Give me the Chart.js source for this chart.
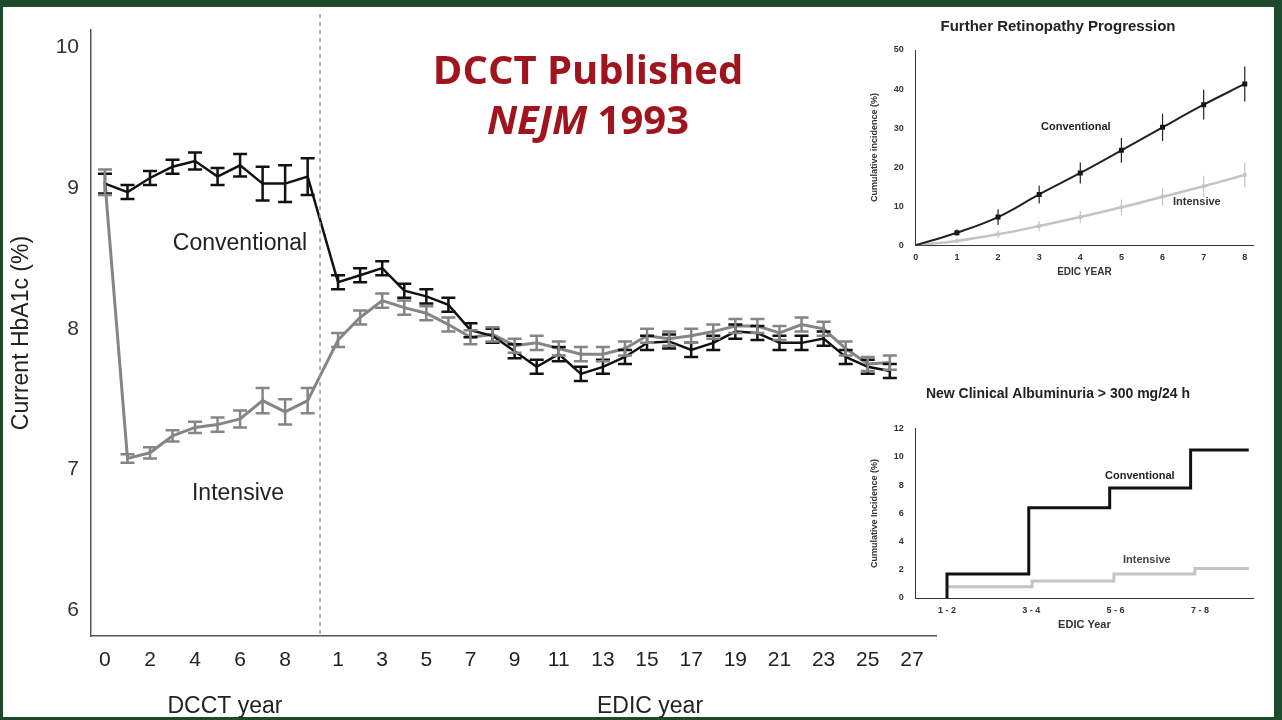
<!DOCTYPE html>
<html>
<head>
<meta charset="utf-8">
<script src="https://cdn.jsdelivr.net/npm/chart.js@4"></script>
<style>
  body { margin: 0; width: 1282px; height: 720px; background: #1d4a2c; overflow: hidden; font-family: "Liberation Sans", Arial, sans-serif; }
  #panel { position: absolute; left: 3px; top: 7px; width: 1271px; height: 710px; background: #fff; }
  .cv { position: absolute; }
  #head { position: absolute; left: 388px; top: 44px; width: 400px; text-align: center; color: #a0141e; font-weight: bold; font-size: 40px; line-height: 50px; font-family: "Open Sans", "Liberation Sans", sans-serif; }
</style>
</head>
<body>
<div id="panel"></div>
<canvas id="main" class="cv" style="left:0;top:0" width="1282" height="720"></canvas>
<div id="head">DCCT Published<br><i>NEJM</i> 1993</div>
<canvas id="retino" class="cv" style="left:855px;top:10px" width="420" height="272"></canvas>
<canvas id="albu" class="cv" style="left:855px;top:378px" width="420" height="260"></canvas>
<script>
// ---- main chart data ----
const dcctYears = [0, 1, 2, 3, 4, 5, 6, 7, 8, 9];
const edicYears = [1, 2, 3, 4, 5, 6, 7, 8, 9, 10, 11, 12, 13, 14, 15, 16, 17, 18, 19, 20, 21, 22, 23, 24, 25, 26];
const convDcct = [9.03, 8.97, 9.07, 9.15, 9.19, 9.08, 9.16, 9.03, 9.03, 9.08];
const convDcctErr = [0.07, 0.05, 0.05, 0.05, 0.06, 0.06, 0.08, 0.12, 0.13, 0.13];
const intDcct = [9.04, 7.08, 7.12, 7.24, 7.3, 7.32, 7.36, 7.49, 7.41, 7.49];
const intDcctErr = [0.09, 0.03, 0.04, 0.04, 0.04, 0.05, 0.06, 0.09, 0.09, 0.09];
const convEdic = [8.33, 8.38, 8.43, 8.27, 8.23, 8.17, 7.99, 7.95, 7.84, 7.73, 7.82, 7.68, 7.73, 7.8, 7.9, 7.91, 7.85, 7.9, 7.98, 7.97, 7.9, 7.9, 7.93, 7.8, 7.73, 7.7];
const intEdic = [7.92, 8.08, 8.2, 8.15, 8.11, 8.03, 7.94, 7.96, 7.88, 7.9, 7.86, 7.82, 7.82, 7.86, 7.95, 7.93, 7.95, 7.98, 8.02, 8.02, 7.97, 8.03, 8.0, 7.86, 7.75, 7.76];
const edicErr = 0.05;
const xTickLabels = ['0', '2', '4', '6', '8', '1', '3', '5', '7', '9', '11', '13', '15', '17', '19', '21', '23', '25', '27'];
const yTicks = [6, 7, 8, 9, 10];

// ---- inset data ----
const retinoYears = [0, 1, 2, 3, 4, 5, 6, 7, 8];
const retinoConv = [0, 3.2, 7.2, 13, 18.5, 24.3, 30.2, 36, 41.3];
const retinoConvErr = [0, 0.8, 2, 2.3, 2.7, 3.2, 3.5, 3.8, 4.5];
const retinoInt = [0, 1.1, 2.8, 4.9, 7.2, 9.7, 12.4, 15.1, 18];
const retinoIntErr = [0, 0.5, 1, 1.3, 1.6, 2, 2.3, 2.7, 3.2];
const albuCats = ['1 - 2', '3 - 4', '5 - 6', '7 - 8'];
const albuConv = [1.7, 6.4, 7.8, 10.5];
const albuInt = [0.8, 1.2, 1.7, 2.1];

// x position helpers (DCCT and EDIC share one linear axis)
const edicX = j => 10.35 + (j - 1) * 0.98;
const xTickPos = [0, 2, 4, 6, 8].concat([1, 3, 5, 7, 9, 11, 13, 15, 17, 19, 21, 23, 25, 27].map(edicX));

const pts = (xs, ys, es) => xs.map((x, i) => ({ x: x, y: ys[i], e: es[i] }));
const convPts = pts(dcctYears, convDcct, convDcctErr).concat(pts(edicYears.map(edicX), convEdic, edicYears.map(() => edicErr)));
const intPts = pts(dcctYears, intDcct, intDcctErr).concat(pts(edicYears.map(edicX), intEdic, edicYears.map(() => edicErr)));

const errorBars = {
    id: 'errorBars',
    afterDatasetsDraw(chart, args, opts) {
        const ctx = chart.ctx;
        const xs = chart.scales.x, ys = chart.scales.y;
        chart.data.datasets.forEach(ds => {
            if (!ds.errCap && ds.errCap !== 0) return;
            ctx.save();
            ctx.strokeStyle = ds.borderColor;
            ctx.lineWidth = ds.errWidth || 2.5;
            ds.data.forEach(p => {
                if (!p.e) return;
                const px = xs.getPixelForValue(p.x);
                const top = ys.getPixelForValue(p.y + p.e), bot = ys.getPixelForValue(p.y - p.e);
                ctx.beginPath();
                ctx.moveTo(px, top); ctx.lineTo(px, bot);
                if (ds.errCap) {
                    ctx.moveTo(px - ds.errCap, top); ctx.lineTo(px + ds.errCap, top);
                    ctx.moveTo(px - ds.errCap, bot); ctx.lineTo(px + ds.errCap, bot);
                }
                ctx.stroke();
            });
            ctx.restore();
        });
    }
};

const mainDeco = {
    id: 'mainDeco',
    afterDraw(chart) {
        const ctx = chart.ctx, xs = chart.scales.x, a = chart.chartArea;
        ctx.save();
        // dashed separator
        const dx = xs.getPixelForValue(9.55);
        ctx.strokeStyle = '#999'; ctx.lineWidth = 1.5; ctx.setLineDash([4, 4]);
        ctx.beginPath(); ctx.moveTo(dx, 14); ctx.lineTo(dx, a.bottom); ctx.stroke();
        ctx.setLineDash([]);
        ctx.fillStyle = '#222'; ctx.font = '23px "Liberation Sans", Arial';
        ctx.textAlign = 'center';
        ctx.fillText('DCCT year', 225, 713);
        ctx.fillText('EDIC year', 650, 713);
        ctx.fillText('Conventional', 240, 250);
        ctx.fillText('Intensive', 238, 500);
        ctx.restore();
    }
};

new Chart(document.getElementById('main'), {
    type: 'scatter',
    data: {
        datasets: [
            { data: convPts, showLine: true, borderColor: '#111', borderWidth: 2.5, pointRadius: 0, errCap: 7 },
            { data: intPts, showLine: true, borderColor: '#858585', borderWidth: 3, pointRadius: 0, errCap: 7 }
        ]
    },
    options: {
        responsive: false, animation: false,
        layout: { padding: { top: 30, right: 346, left: 8, bottom: 0 } },
        plugins: { legend: { display: false }, tooltip: { enabled: false } },
        scales: {
            x: {
                type: 'linear', min: -0.62, max: 36.9,
                afterBuildTicks: s => { s.ticks = xTickPos.map(v => ({ value: v })); },
                ticks: { autoSkip: false, maxRotation: 0, color: '#222', font: { size: 21, family: '"Liberation Sans", Arial' }, padding: 6,
                         callback: (v, i) => xTickLabels[i] },
                grid: { display: false, drawTicks: true, tickLength: 6, tickColor: '#555' },
                border: { color: '#555', width: 1.5 },
                afterFit: s => { s.height = 84; }
            },
            y: {
                min: 5.82, max: 10.12,
                afterBuildTicks: s => { s.ticks = yTicks.map(v => ({ value: v })); },
                ticks: { color: '#333', font: { size: 21, family: '"Liberation Sans", Arial' }, padding: 6 },
                grid: { display: false, tickLength: 6, tickColor: '#555' },
                border: { color: '#555', width: 1.5 },
                title: { display: true, text: 'Current HbA1c (%)', color: '#222', font: { size: 23, family: '"Liberation Sans", Arial' }, padding: 0 },
                afterFit: s => { s.width = 83; }
            }
        }
    },
    plugins: [errorBars, mainDeco]
});

// ---- retinopathy inset ----
const smallFont = { size: 9, weight: 'bold', family: '"Liberation Sans", Arial' };
const insetLabels = (items) => ({
    id: 'insetLabels',
    afterDraw(chart) {
        const ctx = chart.ctx;
        ctx.save();
        ctx.font = 'bold 11px "Liberation Sans", Arial';
        items.forEach(it => { ctx.fillStyle = it.c; ctx.fillText(it.t, it.x, it.y); });
        ctx.restore();
    }
});

new Chart(document.getElementById('retino'), {
    type: 'scatter',
    data: {
        datasets: [
            { data: pts(retinoYears, retinoConv, retinoConvErr), showLine: true, tension: 0.4, borderColor: '#222', borderWidth: 2,
              pointStyle: 'rect', pointRadius: ctx => ctx.dataIndex === 0 ? 0 : 3.5, pointBackgroundColor: '#111', pointBorderWidth: 0, errCap: 0, errWidth: 1.2 },
            { data: pts(retinoYears, retinoInt, retinoIntErr), showLine: true, tension: 0.4, borderColor: '#c4c4c4', borderWidth: 2.5,
              pointStyle: 'rect', pointRadius: ctx => ctx.dataIndex === 0 ? 0 : 2.5, pointBackgroundColor: '#c4c4c4', pointBorderWidth: 0, errCap: 0, errWidth: 1.2 }
        ]
    },
    options: {
        responsive: false, animation: false,
        layout: { padding: { left: 8, right: 22, top: 0, bottom: 4 } },
        plugins: {
            legend: { display: false }, tooltip: { enabled: false },
            title: { display: true, text: 'Further Retinopathy Progression', color: '#222', font: { size: 15, weight: 'bold', family: '"Liberation Sans", Arial' }, padding: { top: 8, bottom: 14 } }
        },
        scales: {
            x: { type: 'linear', min: 0, max: 8.2,
                 afterBuildTicks: s => { s.ticks = retinoYears.map(v => ({ value: v })); },
                 ticks: { color: '#333', font: smallFont, maxRotation: 0 },
                 grid: { display: false, tickLength: 4, tickColor: '#333' }, border: { color: '#333' },
                 title: { display: true, text: 'EDIC YEAR', color: '#333', font: { size: 10, weight: 'bold', family: '"Liberation Sans", Arial' }, padding: 0 } },
            y: { min: 0, max: 50, ticks: { stepSize: 10, color: '#333', font: smallFont, padding: 8 },
                 grid: { display: false, tickLength: 4, tickColor: '#333' }, border: { color: '#333' },
                 title: { display: true, text: 'Cumulative incidence (%)', color: '#333', font: smallFont, padding: 6 } }
        }
    },
    plugins: [errorBars, insetLabels([{ t: 'Conventional', x: 186, y: 120, c: '#222' }, { t: 'Intensive', x: 318, y: 195, c: '#333' }])]
});

// ---- albuminuria inset ----
const albuPos = [0.37, 1.34, 2.3, 3.26];
const stepPts = (ys, xs) => { const d = [{ x: xs[0], y: 0 }]; ys.forEach((y, i) => d.push({ x: xs[i], y: y })); d.push({ x: 3.95, y: ys[ys.length - 1] }); return d; };

new Chart(document.getElementById('albu'), {
    type: 'scatter',
    data: {
        datasets: [
            { data: stepPts(albuConv, albuPos), showLine: true, stepped: 'before', borderColor: '#111', borderWidth: 3, pointRadius: 0 },
            { data: stepPts(albuInt, [0.37, 1.38, 2.35, 3.31]).slice(1), showLine: true, stepped: 'before', borderColor: '#c4c4c4', borderWidth: 3, pointRadius: 0 }
        ]
    },
    options: {
        responsive: false, animation: false,
        layout: { padding: { left: 8, right: 22, top: 0, bottom: 6 } },
        plugins: {
            legend: { display: false }, tooltip: { enabled: false },
            title: { display: true, text: 'New Clinical Albuminuria > 300 mg/24 h', color: '#222', font: { size: 14, weight: 'bold', family: '"Liberation Sans", Arial' }, padding: { top: 8, bottom: 26 } }
        },
        scales: {
            x: { type: 'linear', min: 0, max: 4,
                 afterBuildTicks: s => { s.ticks = [0.37, 1.37, 2.37, 3.37, 1, 2, 3, 4].map(v => ({ value: v })); },
                 ticks: { color: '#333', font: smallFont, maxRotation: 0, callback: (v, i) => i < 4 ? albuCats[i] : '' },
                 grid: { display: false, tickLength: 4, tickColor: '#333' }, border: { color: '#333' },
                 title: { display: true, text: 'EDIC Year', color: '#333', font: { size: 11, weight: 'bold', family: '"Liberation Sans", Arial' }, padding: 0 } },
            y: { min: 0, max: 12, ticks: { stepSize: 2, color: '#333', font: smallFont, padding: 8 },
                 grid: { display: false, tickLength: 4, tickColor: '#333' }, border: { color: '#333' },
                 title: { display: true, text: 'Cumulative Incidence (%)', color: '#333', font: smallFont, padding: 6 } }
        }
    },
    plugins: [insetLabels([{ t: 'Conventional', x: 250, y: 101, c: '#222' }, { t: 'Intensive', x: 268, y: 185, c: '#444' }])]
});
</script>
</body>
</html>
